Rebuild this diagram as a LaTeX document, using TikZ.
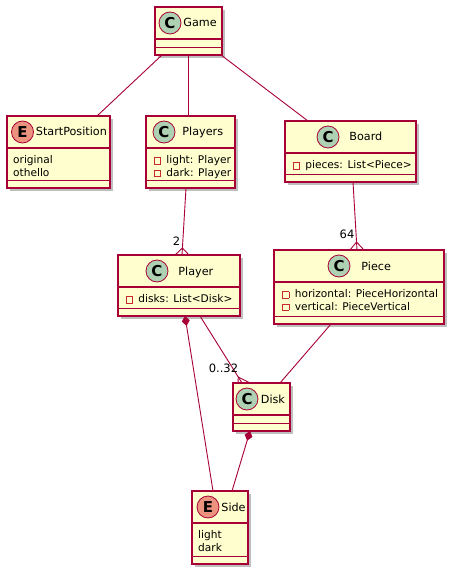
\documentclass[tikz,border=0pt]{standalone}
\usepackage{fontspec}
\setmainfont{DejaVu Sans}
\usepackage{xcolor}
\definecolor{umlBorder}{HTML}{A80036}
\definecolor{umlFill}{HTML}{FEFECE}
\definecolor{iconClass}{HTML}{ADD1B2}
\definecolor{iconEnum}{HTML}{EB937F}
\definecolor{privRed}{HTML}{C82930}
\usetikzlibrary{positioning,calc,shadows,arrows.meta}
\newcommand{\privbox}{\raisebox{0.2pt}{\textcolor{privRed}{\fboxsep=0pt\fboxrule=0.8pt\fbox{\rule{0pt}{5.6pt}\hspace{5.6pt}}}}\hspace{5.5pt}}
\tikzset{
  umlbox/.style={draw=umlBorder, fill=umlFill, line width=1.1pt, inner sep=0pt, outer sep=0pt, anchor=north west,
    drop shadow={shadow xshift=3pt, shadow yshift=-3pt, opacity=0.25, fill=black}},
  umlsep/.style={draw=umlBorder, line width=1.1pt},
  classicon/.style={circle, draw=umlBorder, line width=0.8pt, fill=iconClass, minimum size=22pt, inner sep=0pt,
    font=\bfseries\fontsize{15}{15}\selectfont},
  enumicon/.style={classicon, fill=iconEnum},
  classname/.style={inner sep=0pt, outer sep=0pt, text height=8pt, text depth=0pt, font=\fontsize{11.2}{13}\selectfont},
  members/.style={anchor=north west, align=left, inner sep=0pt, font=\fontsize{10.6}{12.5}\selectfont},
  umlline/.style={draw=umlBorder, line width=0.9pt},
  mult/.style={inner sep=0pt, font=\fontsize{11.5}{13}\selectfont}
}

\begin{document}
\begin{tikzpicture}[x=1pt, y=-1pt]
  \fill[white] (0,0) rectangle (457,577);
  \useasboundingbox (0,0) rectangle (457,577);
  \node[umlbox, minimum width=67pt, minimum height=48pt] (game) at (155,7) {};
  \node[umlbox, minimum width=103pt, minimum height=72pt] (startpos) at (7,116) {};
  \node[umlbox, minimum width=89pt, minimum height=72pt] (players) at (146,116) {};
  \node[umlbox, minimum width=131pt, minimum height=61pt] (board) at (285,121) {};
  \node[umlbox, minimum width=122pt, minimum height=61pt] (player) at (118,255) {};
  \node[umlbox, minimum width=170pt, minimum height=74pt] (piece) at (274,250) {};
  \node[umlbox, minimum width=57pt, minimum height=48pt] (disk) at (233,383) {};
  \node[umlbox, minimum width=56pt, minimum height=73pt] (side) at (192,491) {};

  \foreach \cls in {game,startpos,players,board,player,piece,disk,side} {
    \draw[umlsep] ([yshift=-32pt]\cls.north west) -- ([yshift=-32pt]\cls.north east);
    \draw[umlsep] ([yshift=7.5pt]\cls.south west) -- ([yshift=7.5pt]\cls.south east);
  }

  \node[classicon] (gameicon) at ([xshift=15pt,yshift=-16pt]game.north west) {C};
  \node[classname, right=2pt of gameicon] (gamename) {Game};
  \node[enumicon] (startposicon) at ([xshift=15.5pt,yshift=-16pt]startpos.north west) {E};
  \node[classname, right=2pt of startposicon] (startposname) {StartPosition};
  \node[classicon] (playersicon) at ([xshift=18pt,yshift=-16pt]players.north west) {C};
  \node[classname, right=7pt of playersicon] (playersname) {Players};
  \node[classicon] (boardicon) at ([xshift=43pt,yshift=-16pt]board.north west) {C};
  \node[classname, right=10pt of boardicon] (boardname) {Board};
  \node[classicon] (playericon) at ([xshift=39pt,yshift=-16pt]player.north west) {C};
  \node[classname, right=10pt of playericon] (playername) {Player};
  \node[classicon] (pieceicon) at ([xshift=65pt,yshift=-16pt]piece.north west) {C};
  \node[classname, right=11pt of pieceicon] (piecename) {Piece};
  \node[classicon] (diskicon) at ([xshift=14pt,yshift=-16pt]disk.north west) {C};
  \node[classname, right=2.5pt of diskicon] (diskname) {Disk};
  \node[enumicon] (sideicon) at ([xshift=16pt,yshift=-16pt]side.north west) {E};
  \node[classname, right=2pt of sideicon] (sidename) {Side};

  \node[members] (startposvals) at ([xshift=6pt,yshift=-39.5pt]startpos.north west) {original\\othello};
  \node[members] (playersfields) at ([xshift=7.5pt,yshift=-39.5pt]players.north west) {\privbox light: Player\\\privbox dark: Player};
  \node[members] (boardfields) at ([xshift=7.5pt,yshift=-39.5pt]board.north west) {\privbox pieces: List<Piece>};
  \node[members] (playerfields) at ([xshift=7.5pt,yshift=-39.5pt]player.north west) {\privbox disks: List<Disk>};
  \node[members] (piecefields) at ([xshift=8pt,yshift=-39.5pt]piece.north west) {\privbox horizontal: PieceHorizontal\\\privbox vertical: PieceVertical};
  \node[members] (sidevals) at ([xshift=6pt,yshift=-39.5pt]side.north west) {light\\dark};

  \draw[umlline] ([xshift=-26.5pt]game.south) -- ([xshift=38.5pt]startpos.north);
  \draw[umlline] (game.south) -- (game.south |- players.north);
  \draw[umlline] ([xshift=32.5pt]game.south) -- ([xshift=-42.5pt]board.north);

  \coordinate (playertop) at ([xshift=3pt]player.north);
  \coordinate (playerfoot) at ($(playertop)!7pt!([xshift=-4.5pt]players.south)$);
  \draw[umlline] ([xshift=-4.5pt]players.south) -- (playertop);
  \draw[umlline] ([xshift=-7pt]playertop) -- (playerfoot) -- ([xshift=7pt]playertop);
  \node[mult, anchor=base east] (playersmult) at ([xshift=-2pt,yshift=3pt]playerfoot) {2};

  \coordinate (piecetop) at ([xshift=-2pt]piece.north);
  \coordinate (piecefoot) at ($(piecetop)!8pt!([xshift=2.5pt]board.south)$);
  \draw[umlline] ([xshift=2.5pt]board.south) -- (piecetop);
  \draw[umlline] ([xshift=-7pt]piecetop) -- (piecefoot) -- ([xshift=7pt]piecetop);
  \node[mult, anchor=base east] (boardmult) at ([xshift=-2pt,yshift=4pt]piecefoot) {64};

  \coordinate (disktop) at ([xshift=-19.5pt]disk.north);
  \coordinate (diskfoot) at ($(disktop)!7pt!([xshift=21pt]player.south)$);
  \draw[umlline] ([xshift=21pt]player.south) -- (disktop);
  \draw[umlline] ([xshift=-4pt]disktop) -- (diskfoot) -- ([xshift=8pt]disktop);
  \node[mult, anchor=base east] (playermult) at ([xshift=0pt,yshift=5pt]diskfoot) {0..32};

  \draw[umlline] ([xshift=-28pt]piece.south) -- ([xshift=18.5pt]disk.north);
  \draw[umlline, {Diamond[length=10pt,width=8pt]}-] ([xshift=6pt]player.south) -- ([xshift=-7pt]side.north);
  \draw[umlline, {Diamond[length=10pt,width=8pt]}-] ([xshift=-11.5pt]disk.south) -- ([xshift=12pt]side.north);
\end{tikzpicture}
\end{document}
